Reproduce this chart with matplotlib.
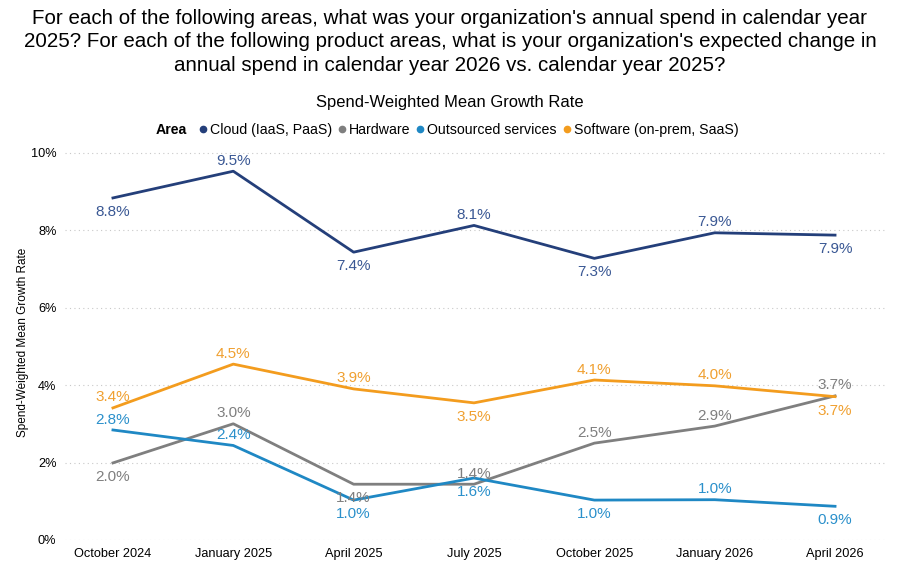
import matplotlib.pyplot as plt
from matplotlib.lines import Line2D
from matplotlib.offsetbox import HPacker

plt.rcParams['font.family'] = ['Liberation Sans', 'DejaVu Sans']

quarters = ['October 2024', 'January 2025', 'April 2025', 'July 2025',
            'October 2025', 'January 2026', 'April 2026']

cloud = [8.83, 9.52, 7.43, 8.12, 7.27, 7.93, 7.87]
hardware = [1.99, 3.00, 1.44, 1.44, 2.50, 2.94, 3.72]
outsourced = [2.84, 2.44, 1.03, 1.60, 1.03, 1.04, 0.87]
software = [3.41, 4.54, 3.90, 3.54, 4.13, 3.98, 3.70]

# label above (+1) or below (-1) each point
cloud_pos = [-1, 1, -1, 1, -1, 1, -1]
hardware_pos = [-1, 1, -1, 1, 1, 1, 1]
outsourced_pos = [1, 1, -1, -1, -1, 1, -1]
software_pos = [1, 1, 1, -1, 1, 1, -1]

series = [
    ('Cloud (IaaS, PaaS)', cloud, cloud_pos, '#243F7A', '#3A5894'),
    ('Hardware', hardware, hardware_pos, '#7F7F7F', '#7F7F7F'),
    ('Outsourced services', outsourced, outsourced_pos, '#1F88C4', '#2B90CB'),
    ('Software (on-prem, SaaS)', software, software_pos, '#F39C1E', '#F0A030'),
]

fig = plt.figure(figsize=(9, 5.71), dpi=100)
ax = fig.add_axes([0.072, 0.0543, 0.912, 0.692])

x = list(range(len(quarters)))
for name, vals, pos, col, lcol in series:
    ax.plot(x, vals, color=col, linewidth=2)
    for xi, v, p in zip(x, vals, pos):
        off = 7.5 if p > 0 else -10
        ax.annotate(f'{v:.1f}%', (xi, v), xytext=(0, off), textcoords='offset points',
                    ha='center', va='center', color=lcol, fontsize=11)

ax.set_xlim(-0.4, 6.42)
ax.set_ylim(0, 10.2)
ax.set_yticks([0, 2, 4, 6, 8, 10])
ax.set_yticklabels([f'{t}%' for t in [0, 2, 4, 6, 8, 10]])
ax.set_xticks(x)
ax.set_xticklabels(quarters)
ax.tick_params(length=0, labelsize=9.2, pad=6)
ax.grid(axis='y', linestyle=(0, (1, 3)), color='#C8C8C8', linewidth=0.8)
for s in ax.spines.values():
    s.set_visible(False)
ax.set_ylabel('Spend-Weighted Mean Growth Rate', fontsize=8.5, labelpad=1)

fig.text(0.5, 0.985,
         "For each of the following areas, what was your organization's annual spend in calendar year\n"
         "2025? For each of the following product areas, what is your organization's expected change in\n"
         "annual spend in calendar year 2026 vs. calendar year 2025?",
         ha='center', va='top', fontsize=14.8, linespacing=1.3)
fig.text(0.5, 0.82, 'Spend-Weighted Mean Growth Rate', ha='center', va='center', fontsize=11.9)

handles = [Line2D([], [], marker='o', linestyle='', color=c, markersize=4.5) for _, _, _, c, _ in series]
leg = fig.legend(handles, [s[0] for s in series], loc='center', bbox_to_anchor=(0.497, 0.772),
                 ncol=4, frameon=False, fontsize=10.2, handletextpad=0.2, columnspacing=0.4,
                 handlelength=0.6,
                 title='Area', title_fontproperties={'weight': 'bold', 'size': 10.2})
# put the legend title inline with the entries
title_box = leg._legend_title_box
leg._legend_box._children.remove(title_box)
handle_box = leg._legend_box._children[0]
leg._legend_box._children = [HPacker(pad=0, sep=8, children=[title_box, handle_box], align='center')]

fig.savefig('out.png', dpi=100)
